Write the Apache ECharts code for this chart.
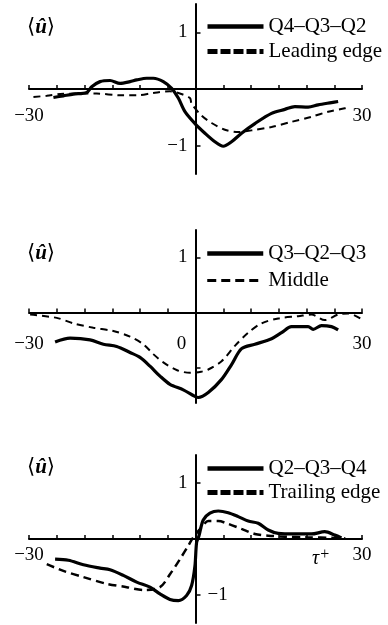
<!DOCTYPE html>
<html><head><meta charset="utf-8">
<script src="https://cdn.jsdelivr.net/npm/echarts@6/dist/echarts.min.js"></script>
<style>html,body{margin:0;padding:0;background:#fff}#c{width:388px;height:625px}</style>
</head><body><div id="c"></div>
<script>
// ---- data (tau+, <u^>) ----
const p1Solid = [[-25.6,-0.15],[-23.8,-0.12],[-22,-0.09],[-19.6,-0.06],[-18.7,0.04],[-17.2,0.13],[-15.4,0.15],[-13.6,0.10],[-11.8,0.13],[-10.6,0.16],[-8.8,0.19],[-7.6,0.19],[-5.8,0.13],[-4.3,0.01],[-3.1,-0.16],[-1.9,-0.40],[-0.1,-0.61],[1.7,-0.78],[3.5,-0.93],[5.0,-1.01],[6.5,-0.93],[8.3,-0.78],[10.7,-0.61],[13.7,-0.43],[16.1,-0.36],[17.9,-0.31],[20.3,-0.32],[22.1,-0.28],[24.5,-0.24],[25.7,-0.22]];
const p1Dashed = [[-29.2,-0.14],[-26.8,-0.12],[-24.4,-0.09],[-21.4,-0.08],[-17.8,-0.08],[-13.6,-0.11],[-10.6,-0.11],[-7.6,-0.07],[-4.6,-0.04],[-2.8,-0.08],[-1,-0.16],[-0.7,-0.26],[1.1,-0.47],[2.9,-0.60],[5.3,-0.72],[7.7,-0.76],[10.1,-0.73],[13.7,-0.67],[17.3,-0.58],[20.9,-0.49],[23.9,-0.40],[26.9,-0.34],[27.5,-0.32]];
const p2Solid = [[-25.3,-0.54],[-22.6,-0.47],[-19,-0.50],[-16.6,-0.58],[-14.2,-0.62],[-11.8,-0.73],[-10,-0.82],[-8.2,-0.98],[-6.4,-1.16],[-4.6,-1.31],[-2.2,-1.41],[-0.1,-1.53],[0.5,-1.55],[2.3,-1.46],[4.7,-1.22],[6.5,-0.95],[8.3,-0.66],[10.7,-0.58],[13.7,-0.48],[15.5,-0.37],[17.3,-0.26],[20.3,-0.26],[21.2,-0.31],[22.7,-0.24],[24.5,-0.26],[25.7,-0.32]];
const p2Dashed = [[-29.8,-0.04],[-25,-0.10],[-22,-0.20],[-18.4,-0.28],[-14.8,-0.34],[-11.8,-0.44],[-9.4,-0.58],[-7.6,-0.76],[-5.8,-0.91],[-3.4,-1.05],[-1,-1.10],[1,-1.08],[2.3,-1.04],[4.7,-0.89],[7.1,-0.61],[9.5,-0.37],[11.9,-0.20],[14.9,-0.11],[18.5,-0.07],[20.9,-0.04],[23.3,-0.14],[25.7,-0.04],[27.5,-0.02],[30,-0.13]];
const p3Solid = [[-25.3,-0.36],[-22.9,-0.38],[-20.2,-0.46],[-17.2,-0.52],[-15.4,-0.55],[-13,-0.65],[-10.6,-0.77],[-8.2,-0.86],[-6.4,-0.98],[-4.6,-1.08],[-3.1,-1.10],[-1.6,-1.01],[-0.7,-0.83],[-0.1,-0.48],[0.2,-0.06],[0.6,0.05],[1.4,0.34],[2.6,0.46],[4.1,0.50],[5.9,0.47],[7.7,0.40],[9.5,0.32],[11.3,0.28],[13.1,0.16],[14.9,0.10],[17.9,0.09],[20.9,0.09],[23.3,0.13],[25.1,0.07],[26.3,0.02]];
const p3Dashed = [[-26.8,-0.45],[-23.8,-0.57],[-20.2,-0.68],[-16,-0.80],[-12.4,-0.86],[-9.4,-0.91],[-6.4,-0.86],[-4.6,-0.63],[-2.8,-0.36],[-1.3,-0.12],[-0.4,0.03],[1.1,0.21],[2.3,0.32],[4.1,0.32],[5.9,0.27],[8.3,0.18],[10.7,0.09],[13.1,0.06],[16.1,0.04],[20,0.03],[25,0.02],[27,0.01]];

const solidNames = ['Q4–Q3–Q2', 'Q3–Q2–Q3', 'Q2–Q3–Q4'];
const dashedNames = ['Leading edge', 'Middle', 'Trailing edge'];
const xLabelValues = [[-30, 30], [-30, 0, 30], [-30, 30]];
const yLabelValues = [[-1, 1], [1], [1]];
const yInsideLabelValues = [[], [], [-1]];
const yTickValues = [[-1, 1], [-1, 1], [-1, 1]];
const yRanges = [[-1.5, 1.5], [-1.65, 1.5], [-1.5, 1.5]];
const xRange = [-30, 30];
const yAxisTitle = '{b|⟨}{u|û}{b|⟩}';
const xAxisTitle = '{t|τ}{s|+}';

const solidData = [p1Solid, p2Solid, p3Solid];
const dashedData = [p1Dashed, p2Dashed, p3Dashed];

// ---- layout / style ----
const FONT = 'Liberation Serif';
const grids = [
  {left: 29, width: 333, top: 4, height: 170},
  {left: 29, width: 333, top: 230, height: 173},
  {left: 29, width: 333, top: 455, height: 168}
];
const xLabelMargin = [18, 22, 7];
const legendTop = [16, 243, 458];
const legendGap = [4, 6, 3];
const titleTop = [17, 243, 457];
const legendDash = [
  {width: 5, type: [10, 3]},
  {width: 3, type: [9, 5]},
  {width: 5, type: [10, 3]}
];
const seriesDash = [
  {width: 2, type: [7, 5]},
  {width: 2, type: [7, 5]},
  {width: 2.5, type: [8, 5]}
];
const fmt = v => (v < 0 ? '−' + Math.abs(v) : String(v));
const hiddenMarker = {color: 'transparent', borderColor: 'transparent', borderWidth: 0, opacity: 0};

const option = {
  animation: false,
  backgroundColor: '#fff',
  textStyle: {fontFamily: FONT, color: '#000'},
  title: [], legend: [], grid: [], xAxis: [], yAxis: [], series: []
};

// axes cross at (0,0): shift the axes from the grid edge to the zero position
const zeroOffsetY = i => -grids[i].height * (0 - yRanges[i][0]) / (yRanges[i][1] - yRanges[i][0]);
const zeroOffsetX = i => -grids[i].width * (0 - xRange[0]) / (xRange[1] - xRange[0]);

for (let i = 0; i < 3; i++) {
  option.grid.push(Object.assign({outerBoundsMode: 'none', containLabel: false}, grids[i]));
  option.title.push({
    text: yAxisTitle, left: 27, top: titleTop[i], padding: 0,
    textStyle: {fontWeight: 'normal', rich: {
      b: {fontFamily: 'DejaVu Serif', fontWeight: 'normal', fontSize: 21, color: '#000'},
      u: {fontFamily: FONT, fontStyle: 'italic', fontWeight: 'bold', fontSize: 21, color: '#000'}
    }}
  });
  option.legend.push({
    orient: 'vertical', left: 205, top: legendTop[i], padding: 0,
    itemWidth: 56, itemHeight: 14, itemGap: legendGap[i],
    textStyle: {fontFamily: FONT, fontSize: 21, color: '#000'},
    itemStyle: hiddenMarker,
    data: [
      {name: solidNames[i], itemStyle: hiddenMarker, lineStyle: {width: 4.5, type: 'solid', color: '#000'}},
      {name: dashedNames[i], itemStyle: hiddenMarker, lineStyle: Object.assign({color: '#000'}, legendDash[i])}
    ],
    selectedMode: false
  });
  const xl = xLabelValues[i];
  option.xAxis.push({
    type: 'value', gridIndex: i, min: xRange[0], max: xRange[1], interval: 5,
    position: 'bottom', offset: zeroOffsetY(i),
    axisLine: {onZero: false, lineStyle: {color: '#000', width: 2}},
    axisTick: {show: true, inside: true, length: 4, lineStyle: {color: '#000', width: 1.5}},
    splitLine: {show: false},
    axisLabel: {
      margin: xLabelMargin[i], fontSize: 19, color: '#000', fontFamily: FONT,
      showMinLabel: true, showMaxLabel: true,
      formatter: v => (xl.includes(v) ? (v === 0 ? '{z|0}' : fmt(v)) : ''),
      rich: {z: {fontSize: 19, fontFamily: FONT, color: '#000', padding: [0, 28, 0, 0]}}
    },
    name: i === 2 ? xAxisTitle : '',
    nameLocation: 'end', nameGap: -50, nameMoveOverlap: false,
    nameTextStyle: {
      padding: [40, 0, 0, 0], verticalAlign: 'middle',
      rich: {
        t: {fontFamily: FONT, fontStyle: 'italic', fontSize: 20, color: '#000'},
        s: {fontFamily: FONT, fontSize: 16, color: '#000', verticalAlign: 'top', padding: [0, 0, 8, 1]}
      }
    }
  });
  const yl = yLabelValues[i];
  option.yAxis.push({
    type: 'value', gridIndex: i, min: yRanges[i][0], max: yRanges[i][1],
    position: 'left', offset: zeroOffsetX(i),
    axisLine: {onZero: false, lineStyle: {color: '#000', width: 2}},
    axisTick: {show: true, inside: true, length: 5, customValues: yTickValues[i], lineStyle: {color: '#000', width: 1.5}},
    splitLine: {show: false},
    axisLabel: {
      margin: 8, fontSize: 19, color: '#000', fontFamily: FONT,
      customValues: yl, formatter: v => (yl.includes(v) ? fmt(v) : '')
    }
  });
  option.series.push({
    name: solidNames[i], type: 'line', xAxisIndex: i, yAxisIndex: i,
    data: solidData[i], symbol: 'none', smooth: 0.3,
    lineStyle: {color: '#000', width: 3.2, type: 'solid'}, itemStyle: {color: '#000'}
  });
  option.series.push({
    name: dashedNames[i], type: 'line', xAxisIndex: i, yAxisIndex: i,
    data: dashedData[i], symbol: 'none', smooth: 0.3,
    lineStyle: Object.assign({color: '#000'}, seriesDash[i]), itemStyle: {color: '#000'}
  });
}
// extra y axis on the bottom panel carrying the label drawn to the right of the axis
const yi = yInsideLabelValues[2];
option.yAxis.push({
  type: 'value', gridIndex: 2, min: yRanges[2][0], max: yRanges[2][1],
  position: 'left', offset: zeroOffsetX(2),
  axisLine: {show: false, onZero: false}, axisTick: {show: false}, splitLine: {show: false},
  axisLabel: {inside: true, margin: 12, fontSize: 19, color: '#000', fontFamily: FONT,
    customValues: yi, formatter: v => (yi.includes(v) ? fmt(v) : '')}
});

const chart = echarts.init(document.getElementById('c'), null, {renderer: 'canvas'});
chart.setOption(option);
</script>
</body></html>
